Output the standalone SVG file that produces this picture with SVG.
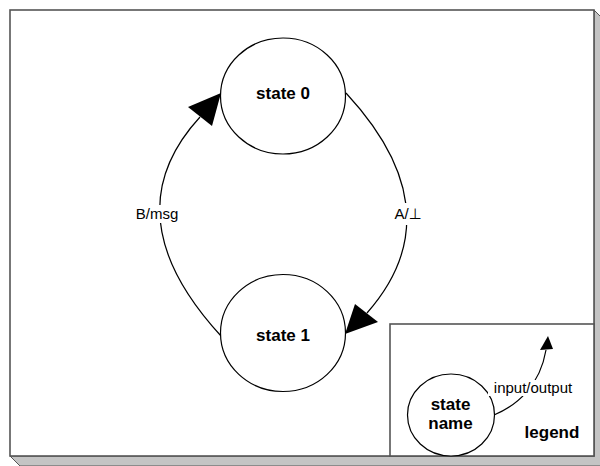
<svg xmlns="http://www.w3.org/2000/svg" width="600" height="466" viewBox="0 0 600 466">
  <style>
    .state { fill: #ffffff; stroke: #000000; stroke-width: 1.2; }
    .edge { fill: none; stroke: #000000; stroke-width: 1.2; }
    .head { fill: #000000; stroke: none; }
    .name { font-family: "Liberation Sans", Arial, sans-serif; font-size: 17px; font-weight: bold; fill: #000000; text-anchor: middle; }
    .label { font-family: "Liberation Sans", Arial, "DejaVu Sans", sans-serif; font-size: 15px; fill: #000000; text-anchor: middle; }
    .mask { fill: #ffffff; stroke: none; }
  </style>

  <!-- page frame with 3D shadow -->
  <g id="frame">
    <rect x="0" y="0" width="600" height="466" fill="#ffffff"/>
    <polygon points="594,10 604,20 604,466 20,466 10,456 594,456" fill="#c4c4c4" stroke="#555555" stroke-width="1"/>
    <rect x="10" y="10" width="584" height="446" fill="#ffffff" stroke="#555555" stroke-width="1.6"/>
  </g>

  <!-- legend panel -->
  <g id="legend">
    <rect x="390" y="324" width="204" height="132" fill="#ffffff" stroke="#555555" stroke-width="1.6"/>
    <text class="name" x="552" y="438">legend</text>
  </g>

  <!-- transitions -->
  <g id="connectors">
    <path class="edge" d="M221,336 Q110,215 200,117"/>
    <polygon class="head" points="221,93 188,107 212,126"/>
    <path class="edge" d="M346,93 Q456,212 367,313"/>
    <polygon class="head" points="345,334 355,304 378,322"/>
    <path class="edge" d="M494,415 C518,405 540,385 546,350"/>
    <polygon class="head" points="548,336 540,350 553,349"/>

    <rect class="mask" x="135" y="205" width="44" height="18"/>
    <text class="label" x="157" y="219">B/msg</text>
    <rect class="mask" x="392" y="203" width="32" height="22"/>
    <text class="label" x="408" y="219">A/⊥</text>
  </g>

  <g id="state0">
    <ellipse class="state" cx="283" cy="96" rx="62.5" ry="58"/>
    <text class="name" x="283" y="99">state 0</text>
  </g>

  <g id="state1">
    <ellipse class="state" cx="283" cy="333" rx="62.5" ry="58.5"/>
    <text class="name" x="283" y="341">state 1</text>
  </g>

  <g id="legend-state">
    <ellipse class="state" cx="451" cy="415" rx="43.5" ry="41"/>
    <text class="name" x="450.5" y="410">state</text>
    <text class="name" x="450.5" y="429">name</text>
  </g>

  <g id="legend-label">
    <rect class="mask" x="488" y="380" width="86" height="16"/>
    <text class="label" x="533" y="393">input/output</text>
  </g>
</svg>
